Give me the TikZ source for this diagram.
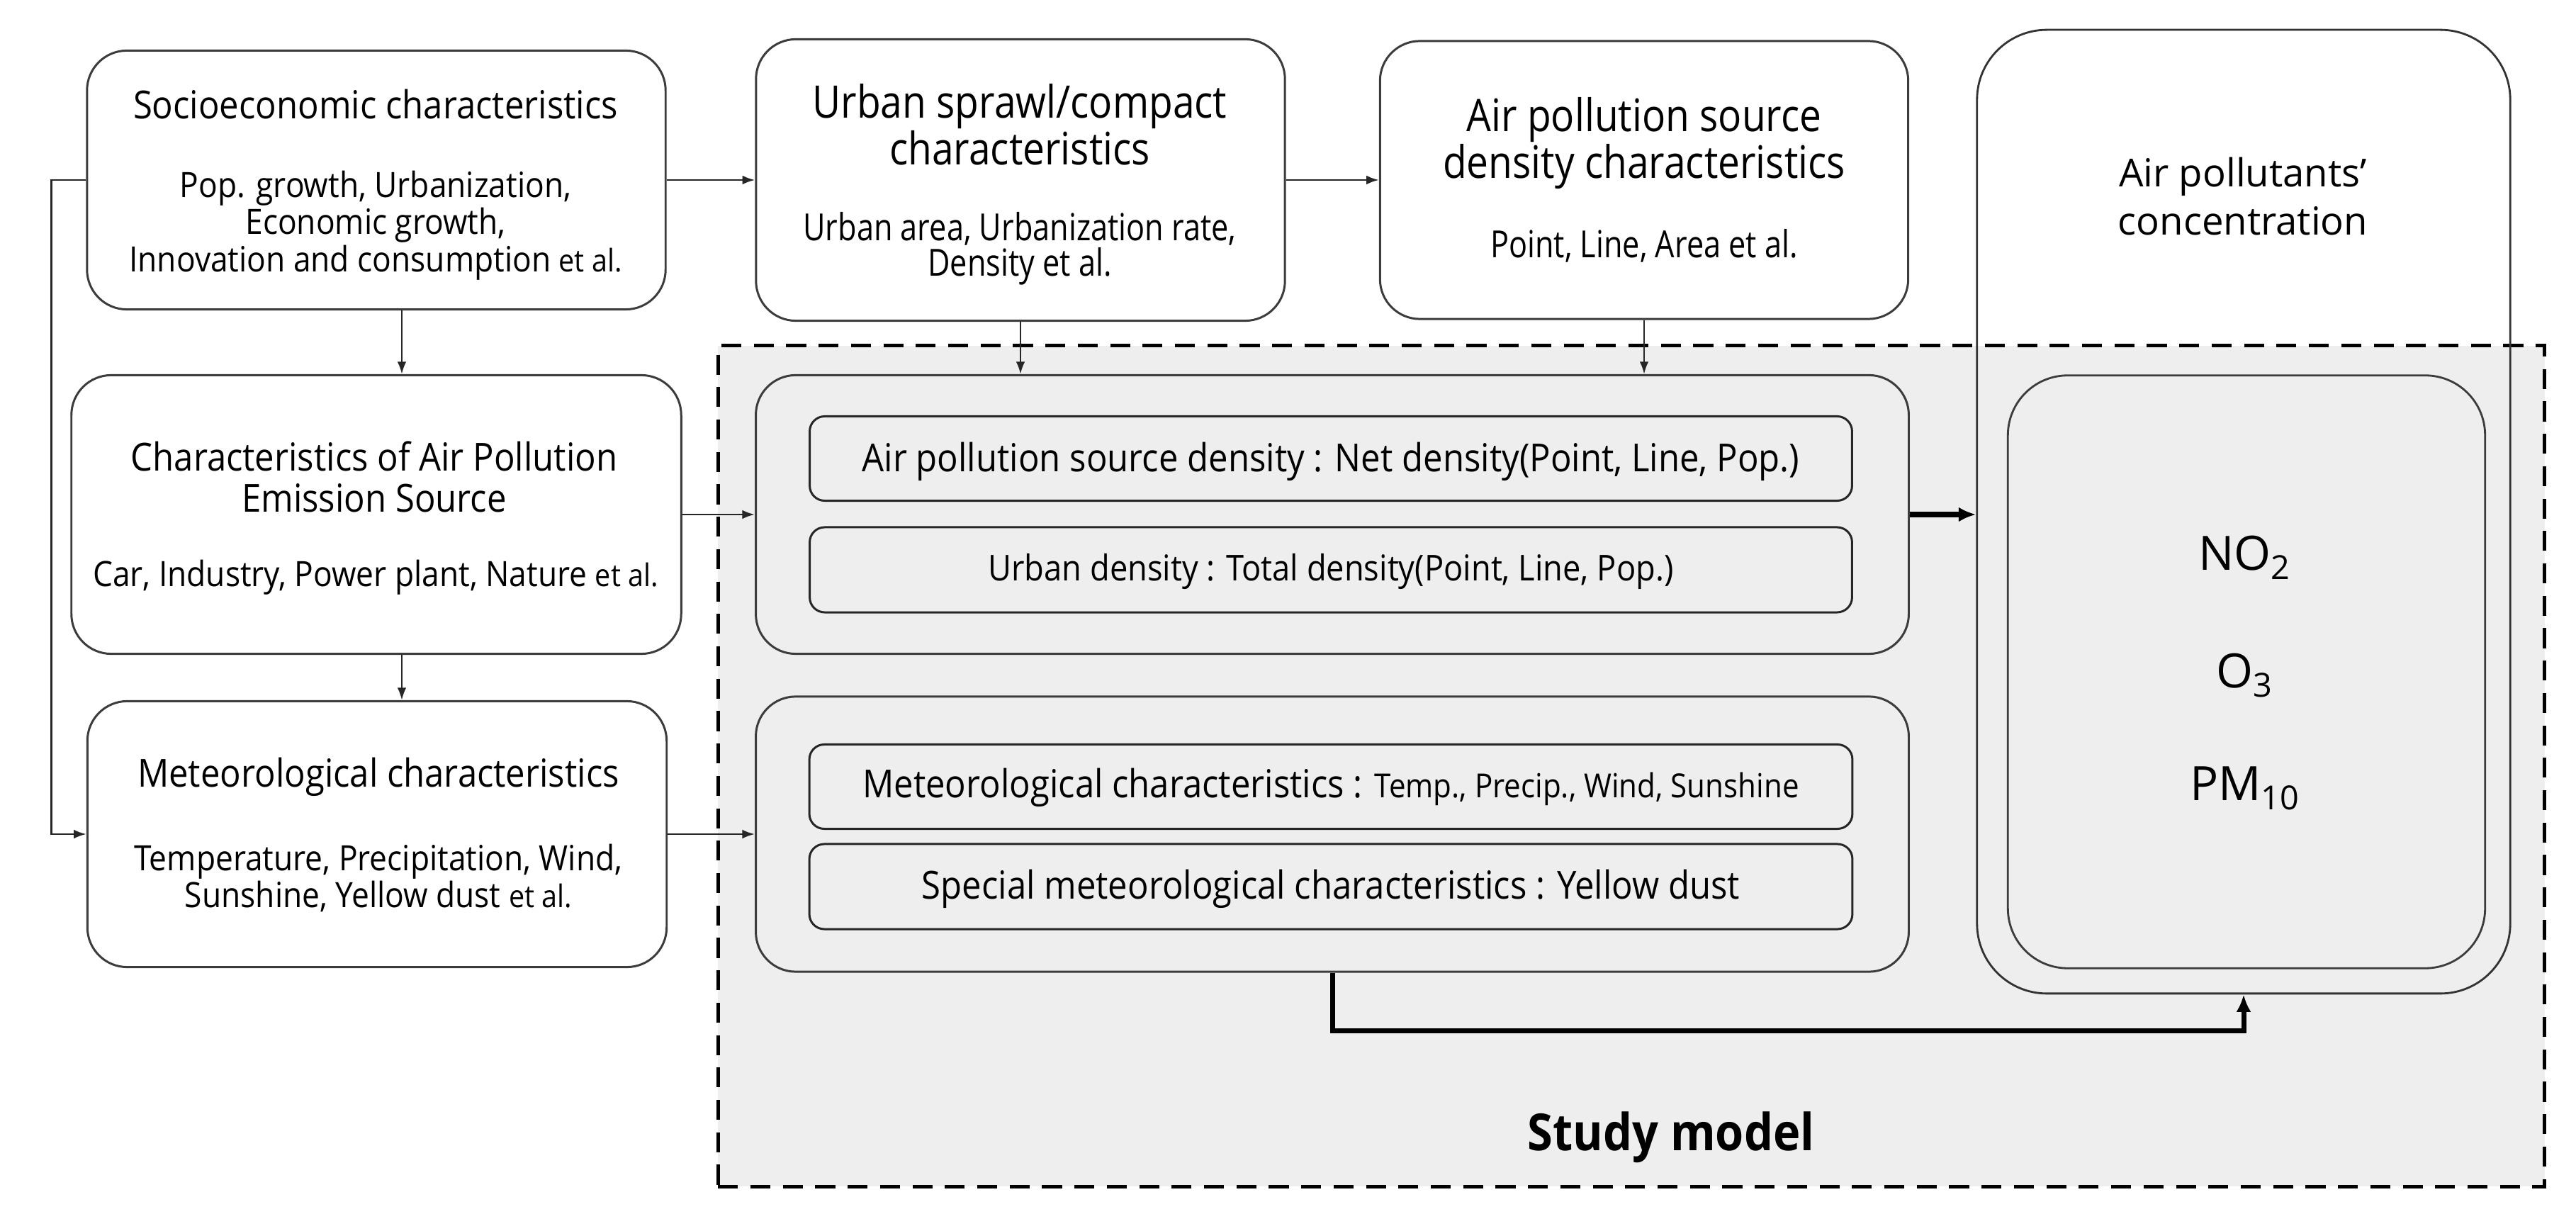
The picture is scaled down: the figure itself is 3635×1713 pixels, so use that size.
\documentclass[tikz,border=0pt]{standalone}
\usepackage{fontspec}
\setmainfont{Open Sans}
\newfontfamily\fA{Open Sans}[FakeStretch=0.9]
\newfontfamily\fB{Open Sans}[FakeStretch=0.82]
\newfontfamily\fT{Open Sans}[FakeStretch=0.87]
\usetikzlibrary{arrows.meta}
\definecolor{bg}{RGB}{238,238,238}
\definecolor{edge}{RGB}{60,60,60}
\tikzset{
  box/.style={draw=edge, line width=0.85pt, rounded corners=16pt, inner sep=0pt, fill=white},
  gbox/.style={draw=edge, line width=0.85pt, rounded corners=16pt, inner sep=0pt},
  subbox/.style={draw=black!85, line width=0.85pt, rounded corners=6pt, inner sep=0pt},
  arr/.style={draw=black!85, line width=0.7pt, -{Latex[length=5pt,width=3.6pt]}},
  thickarr/.style={draw=black, line width=2pt, -{Latex[length=7pt,width=6pt]}},
  ttl/.style={font=\fA\fontsize{15.5}{16.5}\selectfont, align=center, inner sep=0pt},
  sub/.style={font=\fA\fontsize{14}{15}\selectfont, align=center, inner sep=0pt},
  ttlB/.style={font=\fT\fontsize{18}{18.8}\selectfont, align=center, inner sep=0pt},
  subB/.style={font=\fB\fontsize{15}{14.2}\selectfont, align=center, inner sep=0pt},
  inl/.style={font=\fA\fontsize{15.5}{16}\selectfont, align=center, inner sep=0pt},
  rtxt/.style={font=\fontsize{15.5}{19.3}\selectfont, align=center, inner sep=0pt},
  chem/.style={font=\fontsize{19}{24}\selectfont, inner sep=0pt},
}
\newcommand{\etal}{{\fontsize{12.5}{13}\selectfont et al.}}
\begin{document}
\begin{tikzpicture}[x=0.01cm,y=-0.01cm]
\useasboundingbox (0,0) rectangle (3635,1713);
% study model area
\node[draw=black, line width=1.4pt, dash pattern=on 8pt off 5pt, fill=bg,
      minimum width=25.76cm, minimum height=11.86cm, inner sep=0pt] (study) at (2302,1081) {};
% left column
\node[box, minimum width=8.16cm, minimum height=3.65cm] (socio) at (531,254) {};
\node[box, minimum width=8.60cm, minimum height=3.93cm] (char) at (531,726) {};
\node[box, minimum width=8.17cm, minimum height=3.75cm] (meteo) at (532,1177) {};
% top middle
\node[box, minimum width=7.46cm, minimum height=3.97cm] (urban) at (1440,254) {};
\node[box, minimum width=7.45cm, minimum height=3.92cm] (apsd) at (2320,254) {};
% groups
\node[gbox, minimum width=16.26cm, minimum height=3.93cm] (g1) at (1880,726) {};
\node[subbox, minimum width=14.70cm, minimum height=1.19cm] (s1) at (1878,647) {};
\node[subbox, minimum width=14.70cm, minimum height=1.20cm] (s2) at (1878,804) {};
\node[gbox, minimum width=16.26cm, minimum height=3.88cm] (g2) at (1880,1177) {};
\node[subbox, minimum width=14.71cm, minimum height=1.19cm] (s3) at (1878,1110) {};
\node[subbox, minimum width=14.71cm, minimum height=1.20cm] (s4) at (1878,1251) {};
% right
\node[draw=black!80, line width=0.8pt, rounded corners=28pt, inner sep=0pt,
      minimum width=7.52cm, minimum height=13.59cm] (outer) at (3166,722) {};
\node[draw=edge, line width=0.8pt, rounded corners=24pt, inner sep=0pt,
      minimum width=6.73cm, minimum height=8.36cm] (inner) at (3170,948) {};

% texts
\node[ttl] (socioT) at (530,147) {Socioeconomic characteristics};
\node[sub] (socioS) at (530,318) {Pop. growth, Urbanization,\\Economic growth,\\Innovation and consumption \etal};
\node[ttl] (charT) at (528,673) {Characteristics of Air Pollution\\Emission Source};
\node[sub] (charS) at (530,815) {Car, Industry, Power plant, Nature \etal};
\node[ttl] (meteoT) at (534,1096) {Meteorological characteristics};
\node[sub] (meteoS) at (534,1239) {Temperature, Precipitation, Wind,\\Sunshine, Yellow dust \etal};
\node[ttlB] (urbanT) at (1439,176) {Urban sprawl/compact\\characteristics};
\node[subB] (urbanS) at (1439,351) {Urban area, Urbanization rate,\\Density et al.};
\node[ttlB] (apsdT) at (2320,202) {Air pollution source\\density characteristics};
\node[subB] (apsdS) at (2320,347) {Point, Line, Area et al.};
\node[inl] (s1T) at (1878,651) {Air pollution source density : Net density(Point, Line, Pop.)};
\node[inl, font=\fA\fontsize{14.3}{16}\selectfont] (s2T) at (1878,806) {Urban density : Total density(Point, Line, Pop.)};
\node[inl] (s3T) at (1878,1111) {Meteorological characteristics : {\fontsize{13.3}{14}\selectfont Temp., Precip., Wind, Sunshine}};
\node[inl] (s4T) at (1878,1254) {Special meteorological characteristics : Yellow dust};
\node[rtxt] (outT) at (3165,277) {Air pollutants’\\concentration};
\node[chem] (no2) at (3168,787) {NO\textsubscript{2}};
\node[chem] (o3) at (3168,953) {O\textsubscript{3}};
\node[chem] (pm) at (3168,1112) {PM\textsubscript{10}};
\node[font=\fA\bfseries\fontsize{20.5}{24}\selectfont, inner sep=0pt] (studyT) at (2358,1605) {Study model};

% connectors
\coordinate (xa) at (567,0);
\draw[arr] (socio.south -| xa) -- (char.north -| xa);
\draw[arr] (char.south -| xa) -- (meteo.north -| xa);
\draw[arr] (socio.east) -- (urban.west);
\draw[arr] (urban.east) -- (apsd.west);
\draw[arr] (urban.south) -- (urban.south |- g1.north);
\draw[arr] (apsd.south) -- (apsd.south |- g1.north);
\draw[arr] (socio.west) -- ++(-49,0) |- (meteo.west);
\draw[arr] (char.east) -- (g1.west);
\draw[arr] (meteo.east) -- (g2.west);
\draw[thickarr] (g1.east) -- (g1.east -| outer.west);
\draw[thickarr] (g2.south) -- ++(0,82) -| (outer.south);
\end{tikzpicture}
\end{document}
